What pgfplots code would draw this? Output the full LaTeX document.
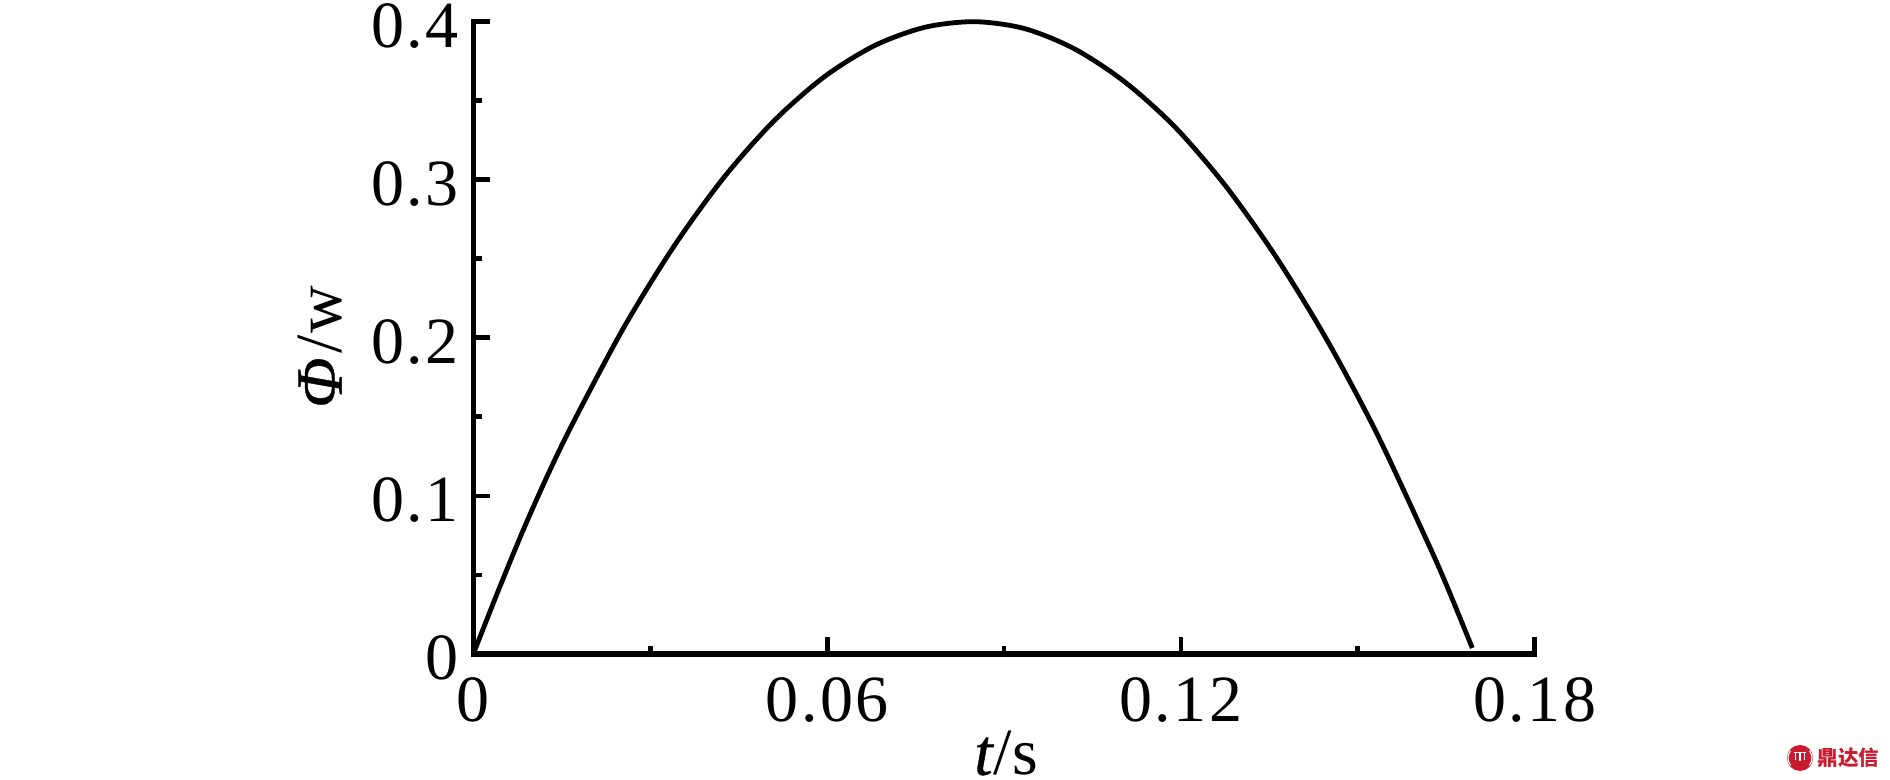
\documentclass[border=0pt]{standalone}
\usepackage{pgfplots}
\pgfplotsset{compat=1.18}
\usepackage{fontspec}
\setmainfont[LetterSpace=3.8]{Liberation Serif}
\newfontfamily\labelfont[ItalicFeatures={FakeBold=0.6}]{Liberation Serif}
\newfontfamily\cjk{Noto Sans CJK SC}
\definecolor{wm}{RGB}{200,28,48}
\begin{document}
\begin{tikzpicture}[x=1pt,y=1pt]
\useasboundingbox (0,0) rectangle (945,390);
\begin{axis}[
  at={(236.65pt,63pt)}, anchor=origin,
  scale only axis, width=530.75pt, height=316.15pt,
  xmin=0, xmax=0.18, ymin=0, ymax=0.4,
  axis lines=left,
  axis line style={-, line width=2.6pt, line cap=rect, black},
  clip=false,
  xtick={0,0.06,0.12,0.18}, xticklabels={0,0.06,0.12,0.18},
  ytick={0,0.1,0.2,0.3,0.4}, yticklabels={0,0.1,0.2,0.3,0.4},
  minor x tick num=1, minor y tick num=1,
  tick align=inside,
  major tick length=8.5pt, minor tick length=4.2pt,
  every tick/.style={black, line width=2.4pt},
  tick label style={font=\fontsize{33}{34}\selectfont, inner sep=0pt},
  xticklabel style={anchor=north, yshift=-11.8pt, xshift=0pt},
  yticklabel style={anchor=east, xshift=-7pt, yshift=-2pt},
  xlabel={\labelfont\fontsize{33}{34}\selectfont\textit{t}/s},
  xlabel style={at={(axis description cs:0.502,-0.191)}, anchor=base, inner sep=0pt},
  ylabel={\labelfont\fontsize{33}{34}\selectfont\textit{Φ}\kern2pt/\kern1pt w},
  ylabel style={at={(axis description cs:-0.124,0.486)}, anchor=base, rotate=0, inner sep=0pt},
]
\addplot[black, line width=2.4pt, smooth] coordinates {
(0,0) (0.00425,0.0402) (0.0085,0.0787) (0.01275,0.1143) (0.017,0.1469)
(0.0255,0.2064) (0.034,0.2578) (0.0425,0.3015) (0.051,0.3373) (0.0595,0.3651)
(0.068,0.3848) (0.0765,0.3964) (0.085,0.4) (0.0935,0.3956) (0.102,0.3827)
(0.1105,0.3618) (0.119,0.3333) (0.1275,0.2964) (0.136,0.2519) (0.1445,0.2003)
(0.153,0.1411) (0.1615,0.0733) (0.1649,0.0447) (0.1694,0.0038)
};
\end{axis}
% watermark
\fill[wm] (900,11) circle (6.5);
\draw[white,line width=0.55pt] (895.3,14.6) arc (140:220:5.6) (904.7,14.6) arc (40:-40:5.6);
\draw[white,line width=0.6pt] (896.8,13.6) -- (903.2,13.6) (897.8,13.6) -- (897.8,10.2) (902.2,13.6) -- (902.2,10.2) (900,13.6) -- (900,9.5);
\node[anchor=west, inner sep=0pt, text=wm] at (908.5,11) {\cjk\bfseries\fontsize{10.3}{10.3}\selectfont 鼎达信};
\end{tikzpicture}
\end{document}
